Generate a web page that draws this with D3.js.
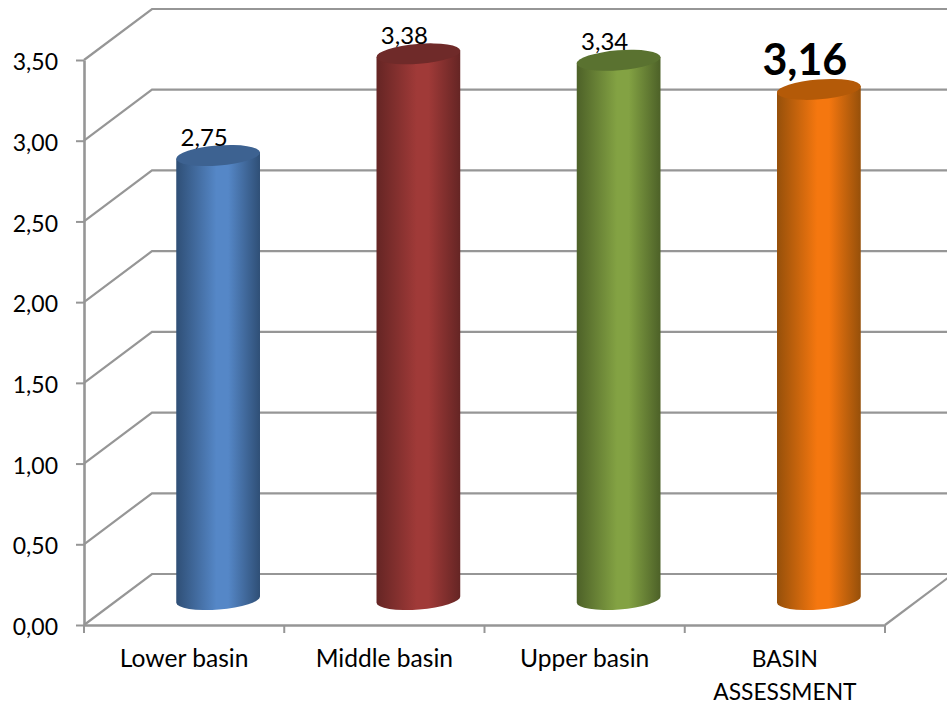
<!DOCTYPE html>
<html>
<head>
<meta charset="utf-8">
<script src="https://cdn.jsdelivr.net/npm/d3@7"></script>
<style>
  html, body { margin:0; padding:0; background:#fff; overflow:hidden; }
  text { font-family:Lato, "Open Sans", sans-serif; fill:#000; }
</style>
</head>
<body>
<svg id="chart" width="947" height="706"></svg>
<script>
// ---------- DATA ---------------------------------------------------------
const categories = ['Lower basin', 'Middle basin', 'Upper basin', 'BASIN ASSESSMENT'];
const values     = [2.75, 3.38, 3.34, 3.16];
const valueLabels = ['2,75', '3,38', '3,34', '3,16'];
const yTicks     = [0, 0.5, 1, 1.5, 2, 2.5, 3, 3.5];

// ---------- CONSTANTS ----------------------------------------------------
const W = 947, H = 706;
const X0 = 84, X1 = 885, Y0 = 625, Y1 = 60;
const DX = 68, DY = -51;             // depth of the 3d floor
const RX = 42, RY = 10, TILT = -4.5;
const GRID = '#969696';
const SHADES = [
  {side:'#2f4f76', mid:'#5587c7', top:'#3d6291'},
  {side:'#652524', mid:'#a03a38', top:'#6f2a29'},
  {side:'#4d6128', mid:'#83a243', top:'#5a7230'},
  {side:'#96500a', mid:'#f5770f', top:'#b45a08'}
];

const svg = d3.select('#chart').attr('viewBox', `0 0 ${W} ${H}`);
const x = d3.scaleBand().domain(categories).range([X0, X1]);
const y = d3.scaleLinear().domain([0, 3.5]).range([Y0, Y1]);
const fmt = v => v.toFixed(2).replace('.', ',');

// ---------- WALLS --------------------------------------------------------
const grid = svg.append('g').attr('stroke', GRID).attr('fill', 'none');
grid.selectAll('path').data(yTicks).enter().append('path')
  .attr('stroke-width', 2.2)
  .attr('d', d => `M${X0},${y(d)} L${X0+DX},${y(d)+DY} L${W},${y(d)+DY}`);

// floor right edge
grid.append('line').attr('stroke-width', 2.2)
  .attr('x1', X1).attr('y1', Y0).attr('x2', X1+DX).attr('y2', Y0+DY);

// ---------- AXES ---------------------------------------------------------
const axisY = svg.append('g').attr('transform', `translate(${X0},0)`)
  .call(d3.axisLeft(y).tickValues(yTicks).tickFormat(fmt).tickSize(8).tickPadding(18).tickSizeOuter(0));
const axisX = svg.append('g').attr('transform', `translate(0,${Y0})`)
  .call(d3.axisBottom(x).tickValues([]).tickSizeOuter(0));
[axisY, axisX].forEach(a => {
  a.select('.domain').attr('stroke', GRID).attr('stroke-width', 2.6);
  a.selectAll('.tick line').attr('stroke', GRID).attr('stroke-width', 2);
});
axisY.selectAll('.tick text').attr('font-size', 23).attr('dy', '.42em').style('font-family', 'Lato');

// category ticks sit on band edges, not on band centres
svg.append('g').selectAll('line').data(categories.map(c => x(c)).concat(X1)).enter().append('line')
  .attr('x1', d => d).attr('x2', d => d).attr('y1', Y0).attr('y2', Y0+8)
  .attr('stroke', GRID).attr('stroke-width', 2);

// ---------- CYLINDERS ----------------------------------------------------
const defs = svg.append('defs');
SHADES.forEach((s, i) => {
  const g = defs.append('linearGradient').attr('id', 'cyl'+i);
  g.append('stop').attr('offset', '0%').attr('stop-color', s.side);
  g.append('stop').attr('offset', '48%').attr('stop-color', s.mid);
  g.append('stop').attr('offset', '62%').attr('stop-color', s.mid);
  g.append('stop').attr('offset', '100%').attr('stop-color', s.side);
});

const cx = c => x(c) + x.bandwidth()/2 + DX/2;
const rad = TILT*Math.PI/180;
const ox = RX*Math.cos(rad), oy = RX*Math.sin(rad);

const bars = svg.append('g').selectAll('g').data(categories).enter().append('g');
bars.each(function(c, i){
  const g = d3.select(this);
  const bx = cx(c), by = y(0)+DY/2, ty = y(values[i])+DY/2;
  g.append('path')
    .attr('fill', `url(#cyl${i})`)
    .attr('d', `M${bx-ox},${ty-oy} L${bx-ox},${by-oy}
                A${RX},${RY} ${TILT} 0 0 ${bx+ox},${by+oy}
                L${bx+ox},${ty+oy} Z`);
  g.append('ellipse')
    .attr('rx', RX).attr('ry', RY)
    .attr('transform', `translate(${bx},${ty}) rotate(${TILT})`)
    .attr('fill', SHADES[i].top);
  const big = i === 3;
  g.append('text')
    .attr('x', bx - 14)
    .attr('y', big ? ty-14.5 : ty-10)
    .attr('text-anchor', 'middle')
    .attr('font-size', big ? 43 : 24)
    .attr('font-weight', big ? 700 : 400)
    .text(valueLabels[i]);
});

// ---------- CATEGORY LABELS ----------------------------------------------
const labels = svg.append('g').attr('text-anchor', 'middle');
labels.selectAll('text').data(categories).enter().append('text')
  .attr('x', d => x(d) + x.bandwidth()/2)
  .attr('y', 667)
  .attr('font-size', d => d === 'BASIN ASSESSMENT' ? 22.8 : 24.6)
  .each(function(d){
    const t = d3.select(this);
    const parts = d === 'BASIN ASSESSMENT' ? d.split(' ') : [d];
    parts.forEach((p, i) => {
      t.append('tspan').attr('x', x(d) + x.bandwidth()/2).attr('dy', i ? 33 : 0).text(p);
    });
  });
</script>
</body>
</html>
